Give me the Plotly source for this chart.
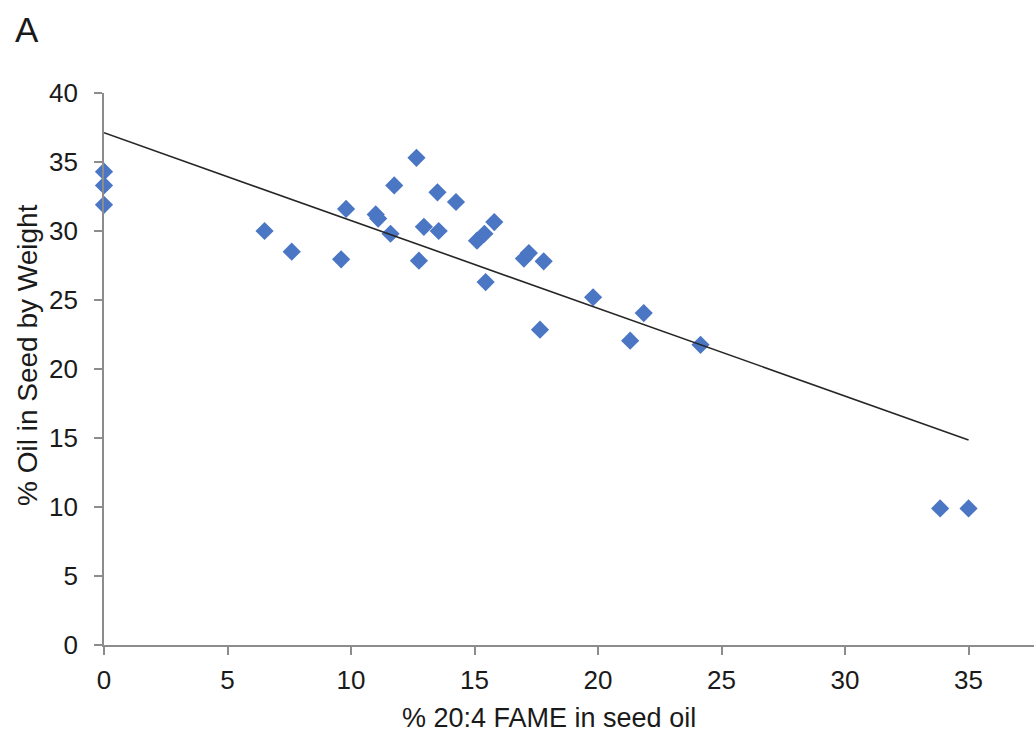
import numpy as np
import plotly.graph_objects as go

# % 20:4 FAME in seed oil
fame_pct = [0, 0, 0, 6.5, 7.6, 9.6, 9.8, 11.0, 11.1, 11.6, 11.75, 12.65, 12.75,
            12.95, 13.5, 13.55, 14.25, 15.1, 15.4, 15.45, 15.8, 17.0, 17.2, 17.8,
            17.65, 19.8, 21.3, 21.85, 24.15, 33.85, 35.0]
# % oil in seed by weight
oil_pct = [34.3, 33.3, 31.9, 30.0, 28.5, 27.95, 31.6, 31.2, 30.9, 29.8, 33.3, 35.3,
           27.85, 30.3, 32.8, 30.0, 32.1, 29.3, 29.8, 26.3, 30.65, 28.0, 28.4, 27.8,
           22.85, 25.2, 22.05, 24.05, 21.75, 9.9, 9.9]

x_ticks = [0, 5, 10, 15, 20, 25, 30, 35]
y_ticks = [0, 5, 10, 15, 20, 25, 30, 35, 40]

# linear least-squares trendline over the data range
slope, intercept = np.polyfit(fame_pct, oil_pct, 1)
fit_x = np.array([min(fame_pct), max(fame_pct)])
fit_y = intercept + slope * fit_x

FONT = "Liberation Sans, Arial, sans-serif"
TEXT = "#1a1a1a"
AXIS_GREY = "#8c8c8c"

# canvas and plot-area geometry (pixels)
W, H = 1034, 740
ML, MR, MT, MB = 104, 0, 93, 95
PW, PH = W - ML - MR, H - MT - MB


def px_to_paper(px, py):
    return (px - ML) / PW, (H - MB - py) / PH


fig = go.Figure()
fig.add_trace(go.Scatter(
    x=fame_pct, y=oil_pct, mode="markers",
    marker=dict(symbol="diamond", size=14, color="#4a76c4", line=dict(width=0)),
    showlegend=False, cliponaxis=False,
))
fig.add_trace(go.Scatter(
    x=fit_x, y=fit_y, mode="lines",
    line=dict(color="#262626", width=1.6),
    showlegend=False,
))

axis_style = dict(
    showgrid=False, zeroline=False,
    showline=True, linecolor=AXIS_GREY, linewidth=1.6,
    ticks="outside", ticklen=8, tickwidth=1.6, tickcolor=AXIS_GREY,
    tickfont=dict(size=26, color=TEXT),
)

fig.update_layout(
    width=W, height=H,
    margin=dict(l=ML, r=MR, t=MT, b=MB),
    paper_bgcolor="white", plot_bgcolor="white",
    font=dict(family=FONT, size=26, color=TEXT),
    xaxis=dict(range=[0, 37.65], tickvals=x_ticks,
               ticktext=[str(v) for v in x_ticks], ticklabelstandoff=3,
               **axis_style),
    yaxis=dict(range=[0, 40], tickvals=y_ticks,
               ticktext=[str(v) for v in y_ticks], ticklabelstandoff=11,
               **axis_style),
)

ax_x, ax_y = px_to_paper(13, 8)
xt_x, xt_y = px_to_paper(549, 718)
yt_x, yt_y = px_to_paper(27, 355)
fig.update_layout(annotations=[
    dict(text="A", x=ax_x, y=ax_y, xref="paper", yref="paper", showarrow=False,
         xanchor="left", yanchor="top", font=dict(size=35, color=TEXT)),
    dict(text="% 20:4 FAME in seed oil", x=xt_x, y=xt_y, xref="paper",
         yref="paper", showarrow=False, xanchor="center", yanchor="middle",
         font=dict(size=27, color=TEXT)),
    dict(text="% Oil in Seed by Weight", x=yt_x, y=yt_y, xref="paper",
         yref="paper", showarrow=False, xanchor="center", yanchor="middle",
         textangle=-90, font=dict(size=28, color=TEXT)),
])

fig.write_html("out.html")
